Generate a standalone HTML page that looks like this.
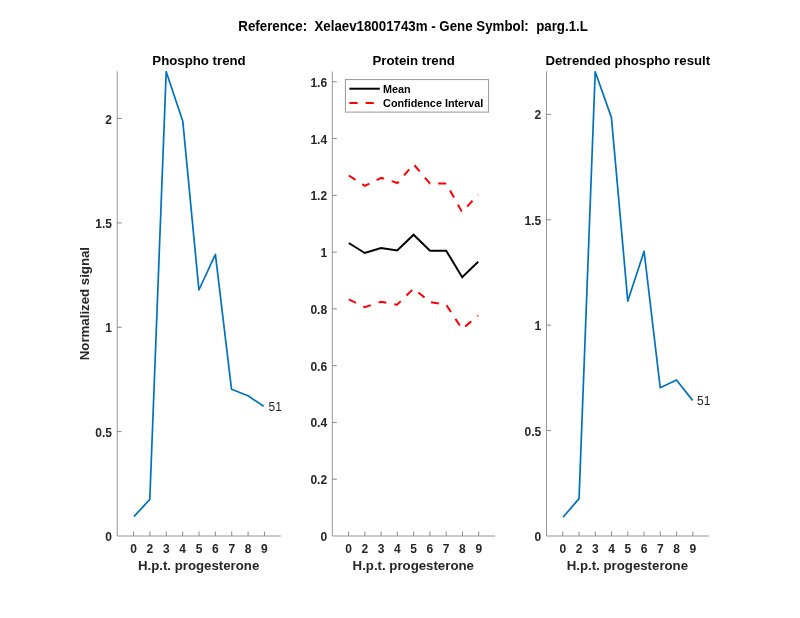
<!DOCTYPE html><html><head><meta charset="utf-8"><title>parg.1.L</title><style>html,body{margin:0;padding:0;background:#fff;width:800px;height:618px;overflow:hidden}svg{display:block;will-change:transform}text{font-family:"Liberation Sans", Arial, Helvetica, sans-serif}</style></head><body>
<svg width="800" height="618" viewBox="0 0 800 618">
<rect width="800" height="618" fill="#fff"/>
<text transform="translate(413.1 30.8) scale(0.9638 1)" text-anchor="middle" font-size="13.80" font-weight="bold" fill="#000" xml:space="preserve" style="white-space:pre">Reference:  Xelaev18001743m - Gene Symbol:  parg.1.L</text>
<path d="M117.20 71.30V536.00H280.80" fill="none" stroke="#969696" stroke-width="1"/>
<text x="112.00" y="541.00" text-anchor="end" font-size="12" font-weight="bold" fill="#262626">0</text>
<path d="M117.20 431.62H121.70" stroke="#8a8a8a" stroke-width="1"/>
<text x="112.00" y="436.62" text-anchor="end" font-size="12" font-weight="bold" fill="#262626">0.5</text>
<path d="M117.20 327.25H121.70" stroke="#8a8a8a" stroke-width="1"/>
<text x="112.00" y="332.25" text-anchor="end" font-size="12" font-weight="bold" fill="#262626">1</text>
<path d="M117.20 222.88H121.70" stroke="#8a8a8a" stroke-width="1"/>
<text x="112.00" y="227.88" text-anchor="end" font-size="12" font-weight="bold" fill="#262626">1.5</text>
<path d="M117.20 118.50H121.70" stroke="#8a8a8a" stroke-width="1"/>
<text x="112.00" y="123.50" text-anchor="end" font-size="12" font-weight="bold" fill="#262626">2</text>
<path d="M133.56 536.00V531.50" stroke="#8a8a8a" stroke-width="1"/>
<text x="133.56" y="552.80" text-anchor="middle" font-size="12" font-weight="bold" fill="#262626">0</text>
<path d="M149.92 536.00V531.50" stroke="#8a8a8a" stroke-width="1"/>
<text x="149.92" y="552.80" text-anchor="middle" font-size="12" font-weight="bold" fill="#262626">2</text>
<path d="M166.28 536.00V531.50" stroke="#8a8a8a" stroke-width="1"/>
<text x="166.28" y="552.80" text-anchor="middle" font-size="12" font-weight="bold" fill="#262626">3</text>
<path d="M182.64 536.00V531.50" stroke="#8a8a8a" stroke-width="1"/>
<text x="182.64" y="552.80" text-anchor="middle" font-size="12" font-weight="bold" fill="#262626">4</text>
<path d="M199.00 536.00V531.50" stroke="#8a8a8a" stroke-width="1"/>
<text x="199.00" y="552.80" text-anchor="middle" font-size="12" font-weight="bold" fill="#262626">5</text>
<path d="M215.36 536.00V531.50" stroke="#8a8a8a" stroke-width="1"/>
<text x="215.36" y="552.80" text-anchor="middle" font-size="12" font-weight="bold" fill="#262626">6</text>
<path d="M231.72 536.00V531.50" stroke="#8a8a8a" stroke-width="1"/>
<text x="231.72" y="552.80" text-anchor="middle" font-size="12" font-weight="bold" fill="#262626">7</text>
<path d="M248.08 536.00V531.50" stroke="#8a8a8a" stroke-width="1"/>
<text x="248.08" y="552.80" text-anchor="middle" font-size="12" font-weight="bold" fill="#262626">8</text>
<path d="M264.44 536.00V531.50" stroke="#8a8a8a" stroke-width="1"/>
<text x="264.44" y="552.80" text-anchor="middle" font-size="12" font-weight="bold" fill="#262626">9</text>
<text transform="translate(199.00 64.9) scale(0.9815 1)" text-anchor="middle" font-size="13.50" font-weight="bold" fill="#000">Phospho trend</text>
<text transform="translate(198.60 569.8) scale(0.9815 1)" text-anchor="middle" font-size="13.50" font-weight="bold" fill="#262626">H.p.t. progesterone</text>
<path d="M332.30 71.50V536.00H495.00" fill="none" stroke="#969696" stroke-width="1"/>
<text x="327.10" y="541.00" text-anchor="end" font-size="12" font-weight="bold" fill="#262626">0</text>
<path d="M332.30 479.22H336.80" stroke="#8a8a8a" stroke-width="1"/>
<text x="327.10" y="484.22" text-anchor="end" font-size="12" font-weight="bold" fill="#262626">0.2</text>
<path d="M332.30 422.44H336.80" stroke="#8a8a8a" stroke-width="1"/>
<text x="327.10" y="427.44" text-anchor="end" font-size="12" font-weight="bold" fill="#262626">0.4</text>
<path d="M332.30 365.66H336.80" stroke="#8a8a8a" stroke-width="1"/>
<text x="327.10" y="370.66" text-anchor="end" font-size="12" font-weight="bold" fill="#262626">0.6</text>
<path d="M332.30 308.88H336.80" stroke="#8a8a8a" stroke-width="1"/>
<text x="327.10" y="313.88" text-anchor="end" font-size="12" font-weight="bold" fill="#262626">0.8</text>
<path d="M332.30 252.10H336.80" stroke="#8a8a8a" stroke-width="1"/>
<text x="327.10" y="257.10" text-anchor="end" font-size="12" font-weight="bold" fill="#262626">1</text>
<path d="M332.30 195.32H336.80" stroke="#8a8a8a" stroke-width="1"/>
<text x="327.10" y="200.32" text-anchor="end" font-size="12" font-weight="bold" fill="#262626">1.2</text>
<path d="M332.30 138.54H336.80" stroke="#8a8a8a" stroke-width="1"/>
<text x="327.10" y="143.54" text-anchor="end" font-size="12" font-weight="bold" fill="#262626">1.4</text>
<path d="M332.30 81.76H336.80" stroke="#8a8a8a" stroke-width="1"/>
<text x="327.10" y="86.76" text-anchor="end" font-size="12" font-weight="bold" fill="#262626">1.6</text>
<path d="M348.57 536.00V531.50" stroke="#8a8a8a" stroke-width="1"/>
<text x="348.57" y="552.80" text-anchor="middle" font-size="12" font-weight="bold" fill="#262626">0</text>
<path d="M364.84 536.00V531.50" stroke="#8a8a8a" stroke-width="1"/>
<text x="364.84" y="552.80" text-anchor="middle" font-size="12" font-weight="bold" fill="#262626">2</text>
<path d="M381.11 536.00V531.50" stroke="#8a8a8a" stroke-width="1"/>
<text x="381.11" y="552.80" text-anchor="middle" font-size="12" font-weight="bold" fill="#262626">3</text>
<path d="M397.38 536.00V531.50" stroke="#8a8a8a" stroke-width="1"/>
<text x="397.38" y="552.80" text-anchor="middle" font-size="12" font-weight="bold" fill="#262626">4</text>
<path d="M413.65 536.00V531.50" stroke="#8a8a8a" stroke-width="1"/>
<text x="413.65" y="552.80" text-anchor="middle" font-size="12" font-weight="bold" fill="#262626">5</text>
<path d="M429.92 536.00V531.50" stroke="#8a8a8a" stroke-width="1"/>
<text x="429.92" y="552.80" text-anchor="middle" font-size="12" font-weight="bold" fill="#262626">6</text>
<path d="M446.19 536.00V531.50" stroke="#8a8a8a" stroke-width="1"/>
<text x="446.19" y="552.80" text-anchor="middle" font-size="12" font-weight="bold" fill="#262626">7</text>
<path d="M462.46 536.00V531.50" stroke="#8a8a8a" stroke-width="1"/>
<text x="462.46" y="552.80" text-anchor="middle" font-size="12" font-weight="bold" fill="#262626">8</text>
<path d="M478.73 536.00V531.50" stroke="#8a8a8a" stroke-width="1"/>
<text x="478.73" y="552.80" text-anchor="middle" font-size="12" font-weight="bold" fill="#262626">9</text>
<text transform="translate(413.65 64.9) scale(0.9815 1)" text-anchor="middle" font-size="13.50" font-weight="bold" fill="#000">Protein trend</text>
<text transform="translate(413.25 569.8) scale(0.9815 1)" text-anchor="middle" font-size="13.50" font-weight="bold" fill="#262626">H.p.t. progesterone</text>
<path d="M546.50 71.30V536.00H709.10" fill="none" stroke="#969696" stroke-width="1"/>
<text x="541.30" y="541.00" text-anchor="end" font-size="12" font-weight="bold" fill="#262626">0</text>
<path d="M546.50 430.60H551.00" stroke="#8a8a8a" stroke-width="1"/>
<text x="541.30" y="435.60" text-anchor="end" font-size="12" font-weight="bold" fill="#262626">0.5</text>
<path d="M546.50 325.20H551.00" stroke="#8a8a8a" stroke-width="1"/>
<text x="541.30" y="330.20" text-anchor="end" font-size="12" font-weight="bold" fill="#262626">1</text>
<path d="M546.50 219.80H551.00" stroke="#8a8a8a" stroke-width="1"/>
<text x="541.30" y="224.80" text-anchor="end" font-size="12" font-weight="bold" fill="#262626">1.5</text>
<path d="M546.50 114.40H551.00" stroke="#8a8a8a" stroke-width="1"/>
<text x="541.30" y="119.40" text-anchor="end" font-size="12" font-weight="bold" fill="#262626">2</text>
<path d="M562.76 536.00V531.50" stroke="#8a8a8a" stroke-width="1"/>
<text x="562.76" y="552.80" text-anchor="middle" font-size="12" font-weight="bold" fill="#262626">0</text>
<path d="M579.02 536.00V531.50" stroke="#8a8a8a" stroke-width="1"/>
<text x="579.02" y="552.80" text-anchor="middle" font-size="12" font-weight="bold" fill="#262626">2</text>
<path d="M595.28 536.00V531.50" stroke="#8a8a8a" stroke-width="1"/>
<text x="595.28" y="552.80" text-anchor="middle" font-size="12" font-weight="bold" fill="#262626">3</text>
<path d="M611.54 536.00V531.50" stroke="#8a8a8a" stroke-width="1"/>
<text x="611.54" y="552.80" text-anchor="middle" font-size="12" font-weight="bold" fill="#262626">4</text>
<path d="M627.80 536.00V531.50" stroke="#8a8a8a" stroke-width="1"/>
<text x="627.80" y="552.80" text-anchor="middle" font-size="12" font-weight="bold" fill="#262626">5</text>
<path d="M644.06 536.00V531.50" stroke="#8a8a8a" stroke-width="1"/>
<text x="644.06" y="552.80" text-anchor="middle" font-size="12" font-weight="bold" fill="#262626">6</text>
<path d="M660.32 536.00V531.50" stroke="#8a8a8a" stroke-width="1"/>
<text x="660.32" y="552.80" text-anchor="middle" font-size="12" font-weight="bold" fill="#262626">7</text>
<path d="M676.58 536.00V531.50" stroke="#8a8a8a" stroke-width="1"/>
<text x="676.58" y="552.80" text-anchor="middle" font-size="12" font-weight="bold" fill="#262626">8</text>
<path d="M692.84 536.00V531.50" stroke="#8a8a8a" stroke-width="1"/>
<text x="692.84" y="552.80" text-anchor="middle" font-size="12" font-weight="bold" fill="#262626">9</text>
<text transform="translate(627.80 64.9) scale(0.9815 1)" text-anchor="middle" font-size="13.50" font-weight="bold" fill="#000">Detrended phospho result</text>
<text transform="translate(627.40 569.8) scale(0.9815 1)" text-anchor="middle" font-size="13.50" font-weight="bold" fill="#262626">H.p.t. progesterone</text>
<text transform="translate(89.3 303.6) rotate(-90) scale(0.9815 1)" text-anchor="middle" font-size="13.50" font-weight="bold" fill="#262626">Normalized signal</text>
<polyline points="133.90,516.70 149.80,499.40 166.20,71.70 182.80,121.30 198.90,290.00 215.40,254.40 231.50,389.20 248.00,395.80 263.70,406.30" fill="none" stroke="#0072bd" stroke-width="1.7" stroke-linejoin="round"/>
<polyline points="563.00,517.30 579.05,498.60 595.20,71.80 611.40,117.40 627.80,301.10 644.10,251.30 660.20,387.70 676.50,380.00 692.60,400.40" fill="none" stroke="#0072bd" stroke-width="1.7" stroke-linejoin="round"/>
<polyline points="348.80,243.00 364.80,253.00 381.00,248.00 397.20,250.50 413.60,234.70 430.00,250.70 446.20,250.70 462.20,277.20 478.20,261.80" fill="none" stroke="#000" stroke-width="2"/>
<polyline points="348.80,175.50 364.80,185.80 381.20,177.80 397.50,183.00 413.60,164.20 430.00,183.60 446.20,183.50 462.10,212.20 478.20,194.50" fill="none" stroke="#ff0000" stroke-width="2" stroke-dasharray="8 8.1"/>
<polyline points="348.80,299.40 364.80,307.10 381.20,301.70 397.10,304.70 413.60,288.50 430.00,302.00 446.20,304.80 462.10,329.00 478.20,315.60" fill="none" stroke="#ff0000" stroke-width="2" stroke-dasharray="8 8.1"/>
<text x="268.6" y="411.2" font-size="12" fill="#262626">51</text>
<text x="697.0" y="405.0" font-size="12" fill="#262626">51</text>
<rect x="345.4" y="79.6" width="143.2" height="32.5" fill="#fff" stroke="#969696" stroke-width="1"/>
<path d="M349.4 88.7H379.8" stroke="#000" stroke-width="2"/>
<path d="M349.4 103.1H379.8" stroke="#ff0000" stroke-width="2" stroke-dasharray="8.2 8.05"/>
<text x="383.1" y="92.6" font-size="10.8" font-weight="bold" fill="#000">Mean</text>
<text x="383.1" y="106.9" font-size="10.8" font-weight="bold" fill="#000">Confidence Interval</text>
</svg></body></html>
